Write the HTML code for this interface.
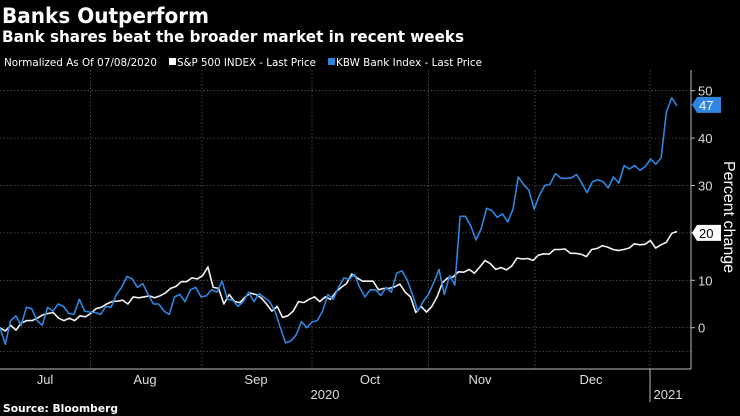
<!DOCTYPE html>
<html><head><meta charset="utf-8"><style>
html,body{margin:0;padding:0;background:#000;}
svg{display:block;font-family:"DejaVu Sans","Liberation Sans",sans-serif;}
</style></head><body>
<svg id="chart" width="740" height="416" viewBox="0 0 740 416" xmlns="http://www.w3.org/2000/svg">
<rect width="740" height="416" fill="#000"/>
<text x="2" y="23" fill="#fff" font-size="21" font-weight="bold" textLength="207" lengthAdjust="spacingAndGlyphs">Banks Outperform</text>
<text x="2" y="42" fill="#fff" font-size="16" font-weight="bold" textLength="462" lengthAdjust="spacingAndGlyphs">Bank shares beat the broader market in recent weeks</text>
<g font-size="11" fill="#fff">
<text x="4" y="66" textLength="153" lengthAdjust="spacingAndGlyphs">Normalized As Of 07/08/2020</text>
<rect x="169" y="58" width="7" height="7" fill="#fff"/>
<text x="177" y="66" textLength="139" lengthAdjust="spacingAndGlyphs">S&amp;P 500 INDEX - Last Price</text>
<rect x="328" y="58" width="7" height="7" fill="#2f86e0"/>
<text x="336" y="66" textLength="146" lengthAdjust="spacingAndGlyphs">KBW Bank Index - Last Price</text>
</g>
<g id="grid"></g>
<g id="series"></g>
<g id="axes"></g>
<text transform="translate(724,217) rotate(90)" text-anchor="middle" fill="#fff" font-size="16" font-family="Liberation Sans, sans-serif">Percent change</text>
<text x="3" y="412" fill="#fff" font-size="11" font-weight="bold" textLength="115" lengthAdjust="spacingAndGlyphs">Source: Bloomberg</text>
</svg>
<script>
const yTicks = [0, 10, 20, 30, 40, 50];
const monthLabels = ["Jul", "Aug", "Sep", "Oct", "Nov", "Dec"];
const yearLabels = ["2020", "2021"];
const kbwValues = [0,-3.5,1.5,2.5,0.5,4.3,4,1.5,0.5,4.3,3.5,5,4.5,3,2.8,6,3.5,3.3,3.2,2.8,4.5,4.3,7,8.5,10.8,10.3,8.5,9.3,7,5,5,3.5,2.8,6.5,7,5.5,8,8.5,6.5,6.7,8,7.5,9.8,6,5.8,4.5,5.5,7.5,5.5,7.2,6.3,5.5,3.5,0,-3.2,-2.8,-1.5,1.3,0,1.2,1.5,3.5,7,6,8.5,10.5,10.2,11.3,8.5,6.5,8,8,6.8,8.5,7.5,11.5,12,10,7,3.5,5.5,7,9.5,12.3,7,11,9,23.5,23.5,21.5,18.5,21,25.2,24.7,23.3,24,22.3,25,31.8,30.2,29,25,28,30,30.3,32.5,31.6,31.5,31.6,32.3,30.5,28.5,30.8,31.2,30.8,29.5,31.8,30.5,34.2,33.5,34.2,33.2,34,35.6,34.5,35.8,45.5,48.5,46.8];
const spxValues = [0,-0.7,0.5,-0.5,1,1.5,1.5,2,2.7,3,3.2,2,1.5,2,1.5,2.5,2.3,3,4,4.3,5,5.5,5.6,5.8,5,6.5,6.3,6.5,6.7,6.3,6.7,7.3,8.3,8.7,9.7,9.7,10.5,10.3,11,12.8,8.5,8.3,5,7,5.5,5.3,6.5,7.3,7,6.3,5,3.5,4.5,2.2,2.5,3.5,5.5,5.3,6,6.5,5.5,6.5,6,7.5,8.5,9.3,11.3,10.5,9.8,9.8,9.8,8,8.3,8.3,8.6,9.2,7.5,6.5,3.2,4.5,3.3,4.5,6.5,9.5,10.5,10.7,11.8,11.7,12.3,11.5,12.8,14.2,13.5,12.3,12.7,12.2,13,14.7,14.5,14.6,14.2,15.3,15.6,15.5,16.5,16.5,16.6,15.7,15.7,15.5,15,16.5,16.7,17.3,17,16.5,16.3,16.5,16.8,17.7,17.5,17.6,18.4,16.8,17.5,18,19.9,20.3];
const kbwLast = 47;
const spxLast = 20;

const NS = "http://www.w3.org/2000/svg";
const plotL = 0, plotR = 691, plotB = 369, xEnd = 677;
function yScale(v){ return 327.7 - 4.74 * v; }
function xScale(i, n){ return plotL + i * (xEnd - plotL) / (n - 1); }
function mk(tag, attrs, parent){ const e = document.createElementNS(NS, tag); for (const k in attrs) e.setAttribute(k, attrs[k]); parent.appendChild(e); return e; }

const grid = document.getElementById("grid");
const axes = document.getElementById("axes");
const series = document.getElementById("series");

// horizontal gridlines (including -5)
[-5].concat(yTicks).forEach(v => {
  const l = mk("line", {x1: 0, x2: plotR, y1: yScale(v), y2: yScale(v), stroke: "#555", "stroke-dasharray": "1.5,2", "stroke-width": 0.8}, grid);
  
  
});
// month boundary gridlines
const monthBounds = [90.6, 202, 312, 428.5, 535, 650];
monthBounds.forEach(x => {
  const l = mk("line", {x1: x, x2: x, y1: 70, y2: plotB, stroke: "#555", "stroke-dasharray": "1.5,2", "stroke-width": 0.8}, grid);
  
  
});

// axes
const ax = mk("line", {x1: plotR, x2: plotR, y1: 70, y2: plotB, stroke: "#bbb", "stroke-width": 1}, axes);


const bx = mk("line", {x1: 0, x2: plotR, y1: plotB, y2: plotB, stroke: "#bbb", "stroke-width": 1}, axes);


const sep = mk("line", {x1: 650, x2: 650, y1: plotB, y2: 402, stroke: "#bbb", "stroke-width": 1}, axes);



yTicks.forEach(v => {
  const t = mk("line", {x1: plotR, x2: plotR + 4, y1: yScale(v), y2: yScale(v), stroke: "#bbb"}, axes);
  
  
  const tx = mk("text", {x: plotR + 7, y: yScale(v) + 5, fill: "#ddd", "font-size": 13, "font-family": "Liberation Sans, sans-serif"}, axes);
  tx.textContent = v;
  
  
});

const monthLabelX = [45, 145, 256, 370, 480, 591];
monthLabels.forEach((m, i) => {
  const t = mk("text", {x: monthLabelX[i], y: 384, fill: "#ddd", "font-size": 13, "text-anchor": "middle", "font-family": "Liberation Sans, sans-serif"}, axes);
  t.textContent = m;
  
  
});
const yearX = [325, 668];
yearLabels.forEach((y, i) => {
  const t = mk("text", {x: yearX[i], y: 399, fill: "#ddd", "font-size": 13, "text-anchor": "middle", "font-family": "Liberation Sans, sans-serif"}, axes);
  t.textContent = y;
  
  
});

function drawLine(vals, color, name){
  const pts = vals.map((v, i) => xScale(i, vals.length).toFixed(1) + "," + yScale(v).toFixed(1)).join(" ");
  const p = mk("polyline", {points: pts, fill: "none", stroke: color, "stroke-width": 1.6, "stroke-linejoin": "round"}, series);
  
  
}
drawLine(spxValues, "#f2f2f2", "sp500-line");
drawLine(kbwValues, "#2f86e0", "kbw-line");

function tag(v, bg, fg, name){
  const y = yScale(v);
  const g = mk("g", {}, axes);
  
  
  mk("polygon", {points: `${plotR+1},${y} ${plotR+6},${y-8} ${plotR+30},${y-8} ${plotR+30},${y+8} ${plotR+6},${y+8}`, fill: bg}, g);
  const t = mk("text", {x: plotR + 8, y: y + 5, fill: fg, "font-size": 13, "font-family": "Liberation Sans, sans-serif"}, g);
  t.textContent = v;
}
tag(kbwLast, "#2f86e0", "#fff", "kbw-last-value-tag");
tag(spxLast, "#fff", "#000", "sp500-last-value-tag");
</script>
</body></html>
